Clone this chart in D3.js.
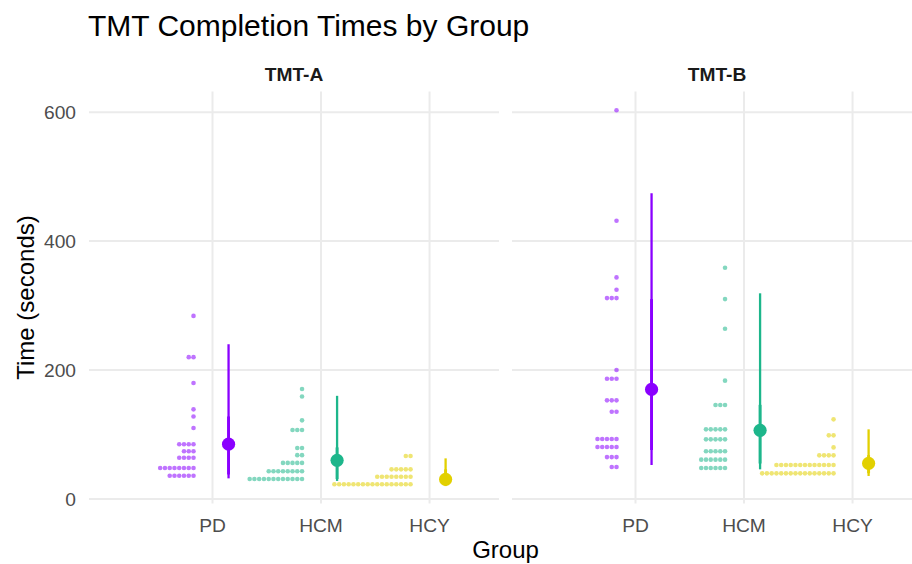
<!DOCTYPE html>
<html>
<head>
<meta charset="utf-8">
<script src="https://cdn.jsdelivr.net/npm/d3@7"></script>
<style>
  html, body { margin: 0; padding: 0; background: #fff; }
  svg { display: block; font-family: "Liberation Sans", Arial, Helvetica, sans-serif; }
</style>
</head>
<body>
<svg id="chart" width="912" height="564"></svg>
<script>
// ---- data -------------------------------------------------------------
const tests  = ["TMT-A", "TMT-B"];
const groups = ["PD", "HCM", "HCY"];
const yTicks = [0, 200, 400, 600];
const groupColors = ["#8A00FF", "#1DB68B", "#E2D000"];

// Binned completion times: [seconds, number of participants in the bin]
const dotsA_PD  = [[284,1],[220,2],[180,1],[139,1],[128,1],[110,1],[85,4],[74,3],[64,4],[48,8],[36,6]];
const dotsA_HCM = [[170.5,1],[159,1],[122,1],[107,3],[79,2],[68,2],[56,5],[43,8],[31,12]];
const dotsA_HCY = [[66.7,2],[46,5],[34.6,8],[22.8,17]];
const dotsB_PD  = [[603,1],[431.5,1],[343.7,1],[324.5,1],[311.6,3],[200,1],[186.5,3],[153,3],[135.4,2],[93,5],[80.6,5],[65,3],[49.6,2]];
const dotsB_HCM = [[358.6,1],[310,1],[264,1],[183.5,1],[145.7,3],[108,5],[92.5,5],[74,5],[61,6],[48,6]];
const dotsB_HCY = [[123.5,1],[98.7,2],[80,1],[67.7,4],[52.7,13],[39.8,16]];

// Mean with 66% and 95% intervals, per group (PD, HCM, HCY)
const meanA = [85, 60, 30.5];
const lo66A = [38, 31, 22];
const hi66A = [128, 80, 46];
const lo95A = [32, 28, 20];
const hi95A = [240, 160, 63];

const meanB = [170, 106.5, 55.3];
const lo66B = [76, 55, 40];
const hi66B = [310, 146, 68];
const lo95B = [52.7, 46, 35.7];
const hi95B = [474, 319, 108];

// ---- layout -----------------------------------------------------------
const svg = d3.select("#chart");
const panelTop = 91.5, panelBottom = 503.5;
const panelW = 410;
const panelLefts = [89, 512];

const y = d3.scaleLinear().domain([-7, 632]).range([panelBottom, panelTop]);

const panels = [
  { test: tests[0], dots: [dotsA_PD, dotsA_HCM, dotsA_HCY],
    mean: meanA, lo66: lo66A, hi66: hi66A, lo95: lo95A, hi95: hi95A },
  { test: tests[1], dots: [dotsB_PD, dotsB_HCM, dotsB_HCY],
    mean: meanB, lo66: lo66B, hi66: hi66B, lo95: lo95B, hi95: hi95B }
];

const gridColor = "#EBEBEB";
const dotStep = 4.76, dotR = 2.3;
const dotAnchor = -0.175, intervalOffset = 0.148;

svg.append("defs").append("clipPath").attr("id", "page")
  .append("rect").attr("x", 0).attr("y", 0).attr("width", 912).attr("height", 564);

panels.forEach((p, pi) => {
  const left = panelLefts[pi];
  // category positions: 1, 2, 3 with discrete padding on both sides
  const x = d3.scaleLinear().domain([-0.138, 3.64]).range([left, left + panelW]);
  const g = svg.append("g").attr("clip-path", "url(#page)");

  // horizontal grid
  g.selectAll("line.hgrid").data(yTicks).join("line")
    .attr("x1", left).attr("x2", left + panelW)
    .attr("y1", d => y(d)).attr("y2", d => y(d))
    .attr("stroke", gridColor).attr("stroke-width", 2);

  // vertical grid
  g.selectAll("line.vgrid").data(groups).join("line")
    .attr("x1", (d, i) => x(i + 1)).attr("x2", (d, i) => x(i + 1))
    .attr("y1", panelTop).attr("y2", panelBottom)
    .attr("stroke", gridColor).attr("stroke-width", 2);

  // strip label
  svg.append("text")
    .attr("x", left + panelW / 2).attr("y", 81)
    .attr("text-anchor", "middle")
    .attr("font-size", 19.2).attr("font-weight", "bold").attr("fill", "#1A1A1A")
    .text(p.test);

  // x tick labels
  svg.selectAll(null).data(groups).join("text")
    .attr("x", (d, i) => x(i + 1)).attr("y", 532)
    .attr("text-anchor", "middle")
    .attr("font-size", 19.2).attr("fill", "#4D4D4D")
    .text(d => d);

  groups.forEach((grp, gi) => {
    const col = groupColors[gi];
    const anchorX = x(gi + 1 + dotAnchor);

    // dot stacks, growing leftwards from the anchor
    const flat = [];
    p.dots[gi].forEach(([v, n]) => { for (let k = 0; k < n; k++) flat.push({ v, k }); });
    g.selectAll(null).data(flat).join("circle")
      .attr("cx", d => anchorX - d.k * dotStep)
      .attr("cy", d => y(d.v))
      .attr("r", dotR)
      .attr("fill", col).attr("fill-opacity", 0.55);

    // intervals and mean
    const ix = x(gi + 1 + intervalOffset);
    g.append("line")
      .attr("x1", ix).attr("x2", ix)
      .attr("y1", y(p.lo95[gi])).attr("y2", y(p.hi95[gi]))
      .attr("stroke", col).attr("stroke-width", 2.3);
    g.append("line")
      .attr("x1", ix).attr("x2", ix)
      .attr("y1", y(p.lo66[gi])).attr("y2", y(p.hi66[gi]))
      .attr("stroke", col).attr("stroke-width", 2.9);
    g.append("circle")
      .attr("cx", ix).attr("cy", y(p.mean[gi])).attr("r", 6.6)
      .attr("fill", col);
  });
});

// y tick labels
svg.selectAll("text.ytick").data(yTicks).join("text")
  .attr("class", "ytick")
  .attr("x", 76).attr("y", d => y(d) + 6.9)
  .attr("text-anchor", "end")
  .attr("font-size", 19.2).attr("fill", "#4D4D4D")
  .text(d => d);

// axis titles
svg.append("text")
  .attr("x", (panelLefts[0] + panelLefts[1] + panelW) / 2).attr("y", 558)
  .attr("text-anchor", "middle").attr("font-size", 24).attr("fill", "#000")
  .text("Group");

svg.append("text")
  .attr("transform", `translate(34, ${(panelTop + panelBottom) / 2}) rotate(-90)`)
  .attr("text-anchor", "middle").attr("font-size", 24).attr("fill", "#000")
  .text("Time (seconds)");

// title
svg.append("text")
  .attr("x", 88).attr("y", 36)
  .attr("font-size", 30).attr("fill", "#000")
  .text("TMT Completion Times by Group");
</script>
</body>
</html>
